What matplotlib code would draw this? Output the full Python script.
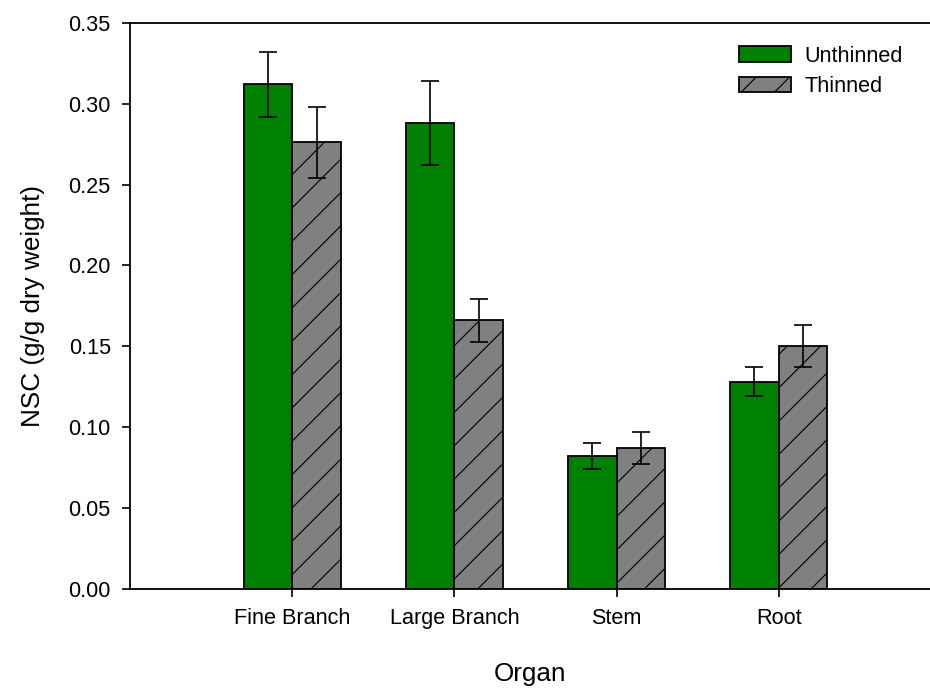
"""
NSC content by organ, unthinned vs thinned stands
"""

import matplotlib.pyplot as plt
import numpy as np

plt.rcParams['font.family'] = ['Liberation Sans', 'DejaVu Sans']
plt.rcParams['hatch.linewidth'] = 0.4
plt.rcParams['axes.linewidth'] = 0.65

# NSC means and standard errors (g/g dry weight)
organs = ['Fine Branch', 'Large Branch', 'Stem', 'Root']
unthinned = [0.312, 0.288, 0.082, 0.128]
unthinned_err = [0.020, 0.026, 0.008, 0.009]
thinned = [0.276, 0.166, 0.087, 0.150]
thinned_err = [0.022, 0.0135, 0.010, 0.013]

# high dpi with a small figure so the single-line hatch is widely spaced
fig = plt.figure(figsize=(4.65, 3.45), dpi=200)
ax = fig.add_axes([0.1398, 0.1464, 0.8602, 0.8206])

x = np.arange(1, len(organs) + 1)
width = 0.3
err_kw = dict(ecolor='black', elinewidth=0.6, capsize=3.1, capthick=0.6)

ax.bar(x - width/2, unthinned, width, yerr=unthinned_err, color='#008000',
       edgecolor='black', linewidth=0.65, label='Unthinned', error_kw=err_kw)
ax.bar(x + width/2, thinned, width, yerr=thinned_err, color='#808080',
       edgecolor='black', linewidth=0.65, hatch='//', label='Thinned',
       error_kw=err_kw)

ax.set_xlim(0, 4.932)
ax.set_ylim(0, 0.35)
ax.set_xticks(x)
ax.set_xticklabels(organs)
ax.set_yticks(np.arange(0, 0.351, 0.05))
ax.set_yticklabels([f'{v:.2f}' for v in np.arange(0, 0.351, 0.05)])
ax.tick_params(direction='out', length=2.9, width=0.6, labelsize=7.8, pad=4)
ax.spines['right'].set_visible(False)

ax.set_ylabel('NSC (g/g dry weight)', fontsize=9.4, labelpad=8.5)
ax.set_xlabel('Organ', fontsize=9.4, labelpad=12)

ax.legend(loc='upper left', bbox_to_anchor=(0.7946, 0.934),
          bbox_transform=fig.transFigure, frameon=False, fontsize=7.8,
          borderpad=0, borderaxespad=0, handlelength=2.4, handleheight=0.7,
          handletextpad=0.62, labelspacing=0.45)

plt.savefig('out.png', dpi=200)
plt.close()
